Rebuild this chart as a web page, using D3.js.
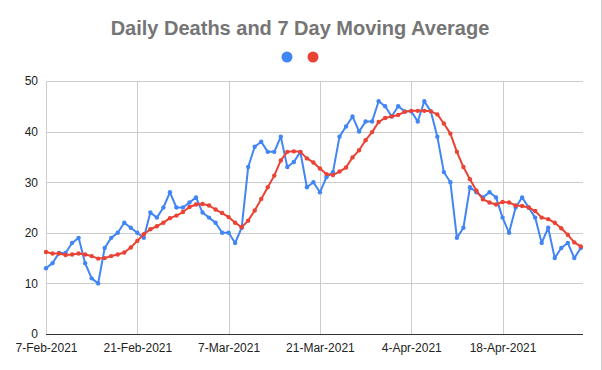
<!DOCTYPE html>
<html>
<head>
<meta charset="utf-8">
<script src="https://cdn.jsdelivr.net/npm/d3@7"></script>
<style>
    body { margin: 0; background: #fff; }
    svg { display: block; font-family: "Liberation Sans", Arial, sans-serif; }
</style>
</head>
<body>
<div id="line-chart"></div>
<script>
// chart values - one entry per day starting 7-Feb-2021
let firstDay = "7-Feb-2021";

let dailyDeaths = [
    13, 14, 16, 16, 18, 19, 14, 11, 10, 17, 19, 20, 22, 21,
    20, 19, 24, 23, 25, 28, 25, 25, 26, 27, 24, 23, 22, 20,
    20, 18, 21, 33, 37, 38, 36, 36, 39, 33, 34, 36, 29, 30,
    28, 31, 32, 39, 41, 43, 40, 42, 42, 46, 45, 43, 45, 44,
    44, 42, 46, 44, 39, 32, 30, 19, 21, 29, 28, 27, 28, 27,
    23, 20, 25, 27, 25, 23, 18, 21, 15, 17, 18, 15, 17
];

let movingAverage = [
    16.2, 15.9, 15.9, 15.6, 15.7, 15.9, 15.7, 15.4, 14.9, 15.0, 15.4, 15.7, 16.1, 17.1,
    18.4, 19.7, 20.7, 21.3, 22.0, 22.9, 23.4, 24.1, 25.1, 25.6, 25.7, 25.4, 24.6, 23.9,
    23.1, 22.0, 21.1, 22.4, 24.4, 26.7, 29.0, 31.3, 34.3, 36.0, 36.1, 36.0, 34.7, 33.9,
    32.7, 31.6, 31.4, 32.1, 32.9, 34.9, 36.3, 38.3, 39.9, 41.9, 42.7, 43.0, 43.3, 43.9,
    44.1, 44.1, 44.1, 44.0, 43.4, 41.6, 39.6, 36.0, 33.0, 30.6, 28.3, 26.6, 26.0, 25.6,
    26.1, 26.0, 25.4, 25.3, 25.0, 24.3, 23.0, 22.7, 22.0, 20.9, 19.6, 18.1, 17.3
];

let xTickLabels = ["7-Feb-2021", "21-Feb-2021", "7-Mar-2021", "21-Mar-2021", "4-Apr-2021", "18-Apr-2021"];
let yTicks = [0, 10, 20, 30, 40, 50];

let chartTitle = "Daily Deaths and 7 Day Moving Average";
let seriesColors = ["#4285F4", "#EA4335"];

// margin conventions
let my_margin = {top: 81, right: 19, bottom: 36, left: 46};
let my_width = 602 - my_margin.left - my_margin.right;
let my_height = 370 - my_margin.top - my_margin.bottom;

let root = d3.select("#line-chart").append("svg")
    .attr("width", 602)
    .attr("height", 370);

let my_svg = root.append("g")
    .attr("transform", "translate(" + my_margin.left + "," + my_margin.top + ")");

let parseDate = d3.utcParse("%d-%b-%Y");
let start = parseDate(firstDay);
let days = dailyDeaths.map((d, i) => d3.utcDay.offset(start, i));
let tickDates = xTickLabels.map(parseDate);

// Scales
let x = d3.scaleUtc()
    .domain([start, d3.utcHour.offset(days[days.length - 1], 8)])
    .range([0, my_width]);

let y = d3.scaleLinear()
    .domain([0, 50])
    .range([my_height, 0]);

// Gridlines
my_svg.append("g")
    .selectAll("line")
    .data(yTicks.slice(1))
    .enter().append("line")
    .attr("x1", 0)
    .attr("x2", my_width)
    .attr("y1", d => Math.round(y(d)) + 0.5)
    .attr("y2", d => Math.round(y(d)) + 0.5)
    .attr("stroke", "#cccccc");

my_svg.append("g")
    .selectAll("line")
    .data(tickDates)
    .enter().append("line")
    .attr("x1", d => Math.round(x(d)) + 0.5)
    .attr("x2", d => Math.round(x(d)) + 0.5)
    .attr("y1", 0)
    .attr("y2", my_height)
    .attr("stroke", "#cccccc");

// Axes
let xAxis = d3.axisBottom()
    .scale(x)
    .tickValues(tickDates)
    .tickSize(0)
    .tickPadding(9)
    .tickFormat((d, i) => xTickLabels[i]);

let yAxis = d3.axisLeft()
    .scale(y)
    .tickValues(yTicks)
    .tickSize(0)
    .tickPadding(8);

let xGroup = my_svg.append("g")
    .attr("class", "axis x-axis")
    .attr("transform", "translate(0," + my_height + ")")
    .call(xAxis);

let yGroup = my_svg.append("g")
    .attr("class", "axis y-axis")
    .call(yAxis);

yGroup.select(".domain").remove();
xGroup.select(".domain")
    .attr("stroke", "#333333")
    .attr("d", "M0,0.5H" + my_width);

my_svg.selectAll(".axis text")
    .attr("fill", "#222222")
    .style("font-size", "12px")
    .style("font-family", "'Liberation Sans', Arial, sans-serif");

// Lines + points
let line = d3.line()
    .x((d, i) => x(days[i]))
    .y(d => y(d))
    .curve(d3.curveLinear);

[dailyDeaths, movingAverage].forEach(function (series, k) {
    my_svg.append("path")
        .datum(series)
        .attr("fill", "none")
        .attr("stroke", seriesColors[k])
        .attr("stroke-width", 2)
        .attr("stroke-linejoin", "round")
        .attr("d", line);

    my_svg.append("g")
        .selectAll("circle")
        .data(series)
        .enter().append("circle")
        .attr("cx", (d, i) => x(days[i]))
        .attr("cy", d => y(d))
        .attr("r", 2.2)
        .attr("fill", seriesColors[k]);
});

// Title and legend
root.append("text")
    .attr("x", 300)
    .attr("y", 35)
    .attr("text-anchor", "middle")
    .attr("fill", "#757575")
    .style("font-size", "20px")
    .style("font-weight", "bold")
    .text(chartTitle);

root.append("g")
    .selectAll("circle")
    .data(seriesColors)
    .enter().append("circle")
    .attr("cx", (d, i) => 287 + i * 26)
    .attr("cy", 57)
    .attr("r", 5.5)
    .attr("fill", d => d);

// right frame edge of the screenshot
root.append("line")
    .attr("x1", 601.5)
    .attr("x2", 601.5)
    .attr("y1", 0)
    .attr("y2", 370)
    .attr("stroke", "#d0d0d0");
</script>
</body>
</html>
